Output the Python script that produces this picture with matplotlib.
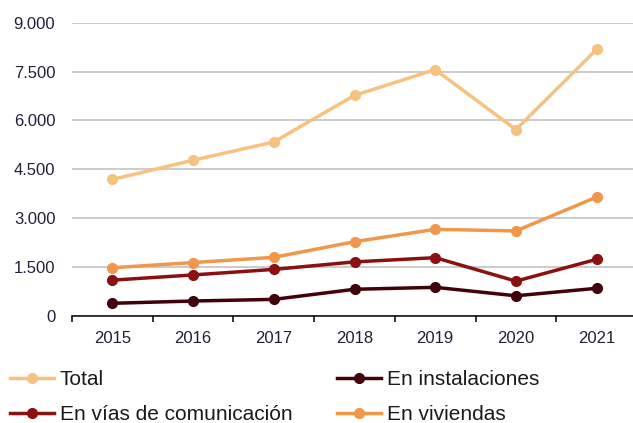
import matplotlib
matplotlib.use("Agg")
import matplotlib.pyplot as plt
from matplotlib.ticker import FuncFormatter

plt.rcParams['font.family'] = ['Liberation Sans', 'DejaVu Sans']

years = ['2015', '2016', '2017', '2018', '2019', '2020', '2021']
total = [4190, 4780, 5340, 6770, 7560, 5720, 8180]
instalaciones = [390, 460, 510, 820, 880, 620, 850]
vias = [1100, 1260, 1430, 1660, 1790, 1070, 1740]
viviendas = [1480, 1640, 1800, 2280, 2660, 2610, 3650]

names = ['Total', 'En instalaciones', 'En vías de comunicación', 'En viviendas']
colors = ['#F6C27D', '#420008', '#8B1010', '#F0974A']
series = [total, instalaciones, vias, viviendas]

fig = plt.figure(figsize=(6.33, 4.23), dpi=100)
ax = fig.add_axes([72 / 633, 107 / 423, 565 / 633, 293.3 / 423])

x = list(range(len(years)))
handles = []
for vals, name, c in zip(series, names, colors):
    h, = ax.plot(x, vals, color=c, lw=2.5, marker='o', ms=7, label=name,
                 solid_joinstyle='round')
    handles.append(h)

ax.set_xlim(-0.5, len(years) - 0.5)
ax.set_ylim(0, 9000)
ax.set_yticks(range(0, 9001, 1500))
ax.yaxis.set_major_formatter(FuncFormatter(lambda v, p: f"{int(v):,}".replace(',', '.')))
ax.grid(axis='y', color='#BDBDBD', lw=1.1)
ax.set_axisbelow(True)
for s in ['left', 'right', 'top']:
    ax.spines[s].set_visible(False)
ax.spines['bottom'].set_color('black')
ax.spines['bottom'].set_linewidth(1.1)

ax.set_xticks(x)
ax.set_xticklabels(years)
ax.set_xticks([i - 0.5 for i in range(len(years) + 1)], minor=True)
ax.tick_params(axis='x', which='major', length=0, pad=11, labelsize=12, labelcolor='#202038')
ax.tick_params(axis='x', which='minor', length=4, width=1.1, direction='out', color='black')
ax.tick_params(axis='y', length=0, pad=12, labelsize=12, labelcolor='#202038')

leg_kw = dict(loc='center left', frameon=False, fontsize=15, handlelength=2.1,
              handletextpad=0.3, labelspacing=0.75, borderpad=0, borderaxespad=0,
              labelcolor='#1a1a1a')
fig.legend([handles[0], handles[2]], [names[0], names[2]],
           bbox_to_anchor=(10 / 633, 1 - 397 / 423), **leg_kw)
fig.legend([handles[1], handles[3]], [names[1], names[3]],
           bbox_to_anchor=(337 / 633, 1 - 397 / 423), **leg_kw)

fig.savefig('out.png', dpi=100)
